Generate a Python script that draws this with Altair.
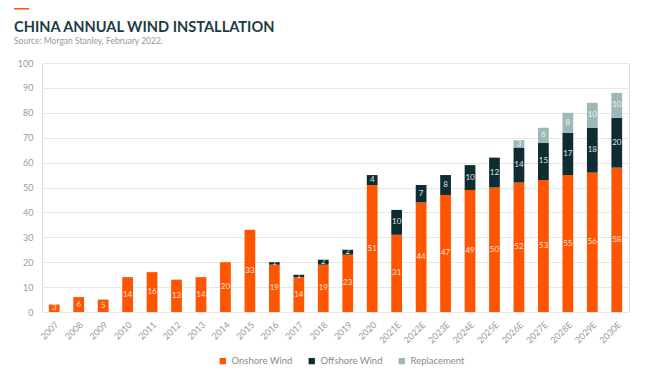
import altair as alt
import pandas as pd

years = ["2007", "2008", "2009", "2010", "2011", "2012", "2013", "2014", "2015",
         "2016", "2017", "2018", "2019", "2020", "2021E", "2022E", "2023E",
         "2024E", "2025E", "2026E", "2027E", "2028E", "2029E", "2030E"]
onshore = [3, 6, 5, 14, 16, 13, 14, 20, 33, 19, 14, 19, 23, 51, 31, 44, 47, 49, 50, 52, 53, 55, 56, 58]
offshore = [0, 0, 0, 0, 0, 0, 0, 0, 0, 1, 1, 2, 2, 4, 10, 7, 8, 10, 12, 14, 15, 17, 18, 20]
replacement = [0, 0, 0, 0, 0, 0, 0, 0, 0, 0, 0, 0, 0, 0, 0, 0, 0, 0, 0, 3, 6, 8, 10, 10]
series = ["Onshore Wind", "Offshore Wind", "Replacement"]
colors = ["#ff5500", "#0e2d33", "#9db8b6"]
yticks = [0, 10, 20, 30, 40, 50, 60, 70, 80, 90, 100]

rows = []
for i, y in enumerate(years):
    base = 0
    for k, (name, vals) in enumerate(zip(series, [onshore, offshore, replacement])):
        v = vals[i]
        if v > 0:
            rows.append({"year": y, "series": name, "order": k, "value": v,
                         "start": base, "end": base + v, "mid": base + v / 2})
        base += v
df = pd.DataFrame(rows)

W, H = 587, 249

xscale = alt.Scale(domain=years, paddingInner=0.56, paddingOuter=0.28)
yscale = alt.Scale(domain=[0, 100], nice=False, zero=True)
xaxis = alt.Axis(labelAngle=-45, labelFontSize=9, labelColor="#9a9a9a",
                 labelFont="Lato", ticks=False, domain=False, labelPadding=8,
                 labelOverlap=False, grid=False)
yaxis = alt.Axis(values=yticks, labelFontSize=9,
                 labelColor="#9a9a9a", labelFont="Lato", ticks=False,
                 domain=False, gridColor="#e8e8e8", labelPadding=9,
                 labelOverlap=False)

bars = alt.Chart(df).mark_bar().encode(
    x=alt.X("year:N", title=None, scale=xscale, axis=xaxis),
    y=alt.Y("start:Q", title=None, scale=yscale, axis=yaxis),
    y2="end:Q",
    color=alt.Color("series:N", sort=series,
                    scale=alt.Scale(domain=series, range=colors),
                    legend=alt.Legend(title=None, orient="none", direction="horizontal",
                                      legendX=176, legendY=293, symbolType="square",
                                      symbolSize=40, labelFontSize=9.5, labelColor="#8a8a8a",
                                      labelFont="Lato", columnPadding=14, symbolStrokeWidth=0)),
)

labels = alt.Chart(df).mark_text(color="white", fontSize=8, font="Lato", opacity=0.85).encode(
    x=alt.X("year:N", title=None, scale=xscale, axis=xaxis),
    y=alt.Y("mid:Q", title=None, scale=yscale, axis=yaxis),
    text=alt.Text("value:Q"),
)

head = pd.DataFrame({"t": ["CHINA ANNUAL WIND INSTALLATION"]})
title = alt.Chart(head).mark_text(align="left", baseline="alphabetic", font="Lato",
                                   fontWeight="bold", fontSize=14.6, color="#1d3c44").encode(
    x=alt.value(-28), y=alt.value(-31), text="t:N")
sub = alt.Chart(pd.DataFrame({"t": ["Source: Morgan Stanley, February 2022."]})).mark_text(
    align="left", baseline="middle", font="Lato", fontSize=8.5, color="#9a9a9a").encode(
    x=alt.value(-28), y=alt.value(-22), text="t:N")
dash = alt.Chart(head).mark_rule(color="#ff5500", strokeWidth=3).encode(
    x=alt.value(-28), x2=alt.value(-13), y=alt.value(-55))

chart = alt.layer(bars, labels, title, sub, dash).properties(
    width=W, height=H,
    autosize=alt.AutoSizeParams(type="none"),
    padding={"left": 34, "top": 55, "right": 10, "bottom": 61},
).configure_view(fill="#f3f3f3", stroke=None).configure(background="white")

chart.save("out.html", embed_options={"renderer": "svg", "actions": False})
